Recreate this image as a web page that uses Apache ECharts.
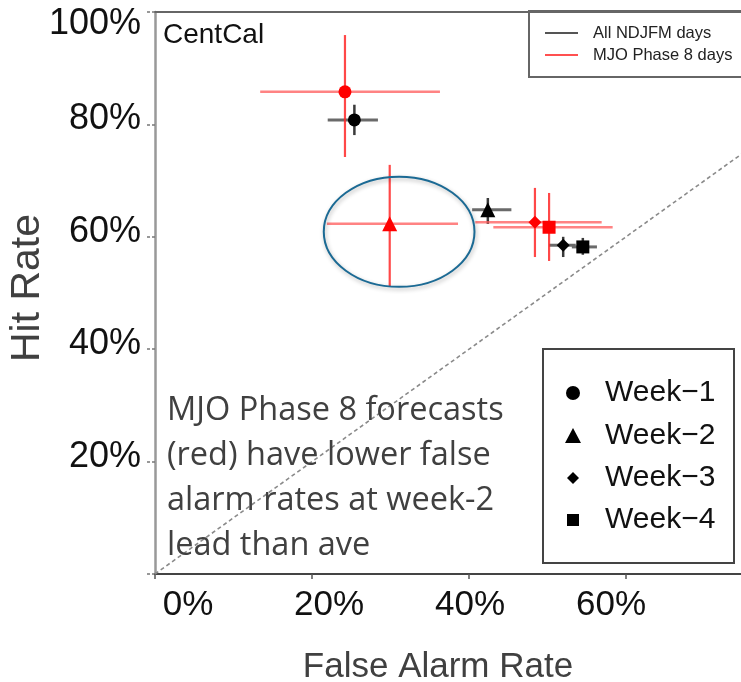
<!DOCTYPE html>
<html>
<head>
<meta charset="utf-8">
<script src="https://cdn.jsdelivr.net/npm/echarts@6/dist/echarts.min.js"></script>
<style>
  html, body { margin: 0; padding: 0; background: #fff; overflow: hidden; }
  #chart { width: 741px; height: 682px; }
</style>
</head>
<body>
<div id="chart"></div>
<script>
// Forecast verification for CentCal: hit rate vs false alarm rate, weeks 1-4
const weeks = ['Week\u22121', 'Week\u22122', 'Week\u22123', 'Week\u22124'];
const weekSymbols = ['circle', 'triangle', 'diamond', 'rect'];
const weekSymbolSizes = [13, 15, 13, 13];

// All NDJFM days (%, with uncertainty ranges)
const allFar      = [25.4, 42.4, 52.0, 54.5];
const allHit      = [80.8, 64.8, 58.5, 58.2];
const allFarLow   = [22.0, 40.4, 50.2, 53.1];
const allFarHigh  = [28.4, 45.4, 53.6, 56.3];
const allHitLow   = [78.1, 62.3, 56.4, 56.8];
const allHitHigh  = [83.5, 66.9, 60.0, 59.8];

// MJO Phase 8 days (%, with uncertainty ranges)
const mjoFar      = [24.2, 29.9, 48.4, 50.2];
const mjoHit      = [85.8, 62.3, 62.6, 61.7];
const mjoFarLow   = [13.4, 21.9, 40.8, 43.1];
const mjoFarHigh  = [36.3, 38.6, 56.9, 58.3];
const mjoHitLow   = [74.2, 51.2, 56.4, 55.7];
const mjoHitHigh  = [95.9, 72.8, 68.7, 67.8];

const xTickValues = [0, 20, 40, 60];
const yTickValues = [20, 40, 60, 80, 100];

// no-skill diagonal and the highlighted week-2 region (centre x, centre y, half-width, half-height)
const referenceLine = [[0, 0], [80, 80]];
const highlightRegion = [31.1, 60.9, 9.6, 9.8];

const seriesNames = ['All NDJFM days', 'MJO Phase 8 days'];
const noteText = 'MJO Phase 8 forecasts\n(red) have lower false\nalarm rates at week-2\nlead than ave';

function rangeRows(far, hit, farLow, farHigh, hitLow, hitHigh) {
  return far.map((x, i) => [x, hit[i], farLow[i], farHigh[i], hitLow[i], hitHigh[i]]);
}
function markerRows(far, hit) {
  return far.map((x, i) => ({
    value: [x, hit[i]],
    symbol: weekSymbols[i],
    symbolSize: weekSymbolSizes[i]
  }));
}
function errorBars(hColor, vColor, hWidth, vWidth) {
  return function (params, api) {
    const c = api.coord([api.value(0), api.value(1)]);
    const xl = api.coord([api.value(2), api.value(1)]);
    const xh = api.coord([api.value(3), api.value(1)]);
    const yl = api.coord([api.value(0), api.value(4)]);
    const yh = api.coord([api.value(0), api.value(5)]);
    return {
      type: 'group',
      children: [
        { type: 'line', shape: { x1: xl[0], y1: c[1], x2: xh[0], y2: c[1] },
          style: { stroke: hColor, lineWidth: hWidth } },
        { type: 'line', shape: { x1: c[0], y1: yl[1], x2: c[0], y2: yh[1] },
          style: { stroke: vColor, lineWidth: vWidth } }
      ]
    };
  };
}

const chart = echarts.init(document.getElementById('chart'));

const axisFont = 'Liberation Sans, Arial, sans-serif';

const option = {
  backgroundColor: '#fff',
  animation: false,
  grid: {
    left: 155, top: 12, width: 628, height: 562,
    outerBoundsMode: 'none', containLabel: false, show: false
  },
  xAxis: [
    {
      type: 'value', min: 0, max: 80, interval: 20,
      axisLine: { show: true, onZero: false, lineStyle: { color: '#444', width: 2 } },
      axisTick: { show: true, length: 5, lineStyle: { color: '#555', width: 1.5 } },
      axisLabel: { show: false },
      splitLine: { show: false }
    },
    {
      // tick labels for the false alarm rate
      type: 'value', min: -4.68, max: 84.4, position: 'bottom',
      axisLine: { show: false }, axisTick: { show: false }, splitLine: { show: false },
      axisLabel: {
        customValues: xTickValues,
        margin: 14,
        fontSize: 35, fontFamily: axisFont, color: '#111',
        formatter: v => (xTickValues.indexOf(v) >= 0 ? v + '%' : '')
      }
    },
    {
      // upper frame of the plot
      type: 'value', min: 0, max: 80, position: 'top',
      axisLine: { show: true, onZero: false, lineStyle: { color: '#666', width: 2 } },
      axisTick: { show: false }, axisLabel: { show: false }, splitLine: { show: false }
    }
  ],
  yAxis: {
    type: 'value', min: 0, max: 100, interval: 20,
    axisLine: { show: true, onZero: false, lineStyle: { color: '#999', width: 2.5 } },
    axisTick: { show: true, length: 8, lineStyle: { color: '#777', width: 1.5, type: [3, 2] } },
    splitLine: { show: false },
    axisLabel: {
      margin: 14,
      fontSize: 36, fontFamily: axisFont, color: '#111',
      formatter: v => {
        if (yTickValues.indexOf(v) < 0) return '';
        return v === 100 ? '{top|' + v + '%}' : '{n|' + v + '%}';
      },
      rich: {
        n: { fontSize: 36, fontFamily: axisFont, color: '#111', padding: [0, 0, 10, 0] },
        top: { fontSize: 36, fontFamily: axisFont, color: '#111', padding: [24, 0, 0, 0] }
      }
    }
  },
  series: [
    {
      type: 'line', data: referenceLine, showSymbol: false, silent: true,
      lineStyle: { color: '#8a8a8a', width: 1.6, type: [4, 3] }, z: 1
    },
    {
      name: seriesNames[0], type: 'custom',
      renderItem: errorBars('#6a6a6a', '#3a3a3a', 3, 2.5),
      data: rangeRows(allFar, allHit, allFarLow, allFarHigh, allHitLow, allHitHigh), z: 2
    },
    {
      name: seriesNames[0], type: 'scatter',
      data: markerRows(allFar, allHit),
      itemStyle: { color: '#000', opacity: 1 }, z: 3
    },
    {
      name: seriesNames[1], type: 'custom',
      renderItem: errorBars('rgba(255,90,90,0.75)', 'rgba(255,40,40,0.85)', 2.5, 2.2),
      data: rangeRows(mjoFar, mjoHit, mjoFarLow, mjoFarHigh, mjoHitLow, mjoHitHigh), z: 4
    },
    {
      name: seriesNames[1], type: 'scatter',
      data: markerRows(mjoFar, mjoHit),
      itemStyle: { color: '#ff0000', opacity: 1 }, z: 5
    },
    {
      type: 'custom', silent: true, z: 6,
      data: [highlightRegion],
      renderItem: (params, api) => {
        const c = api.coord([api.value(0), api.value(1)]);
        const s = api.size([api.value(2), api.value(3)]);
        return {
          type: 'ellipse',
          shape: { cx: c[0], cy: c[1], rx: s[0], ry: s[1] },
          style: {
            fill: 'none', stroke: '#1b6a94', lineWidth: 2,
            shadowBlur: 4, shadowColor: 'rgba(0,0,0,0.3)', shadowOffsetX: 1, shadowOffsetY: 2
          }
        };
      }
    }
  ],
  graphic: [
    // axis titles
    { type: 'text', x: 28, y: 288, rotation: Math.PI / 2, z: 50,
      style: { text: 'Hit Rate', fontSize: 41, fontFamily: axisFont, fill: '#404040',
               align: 'center', verticalAlign: 'middle' } },
    { type: 'text', x: 438, y: 667, z: 50,
      style: { text: 'False Alarm Rate', fontSize: 35, fontFamily: axisFont, fill: '#404040',
               align: 'center', verticalAlign: 'middle' } },
    // region label
    { type: 'text', x: 163, y: 21, z: 50,
      style: { text: 'CentCal', fontSize: 28, fontFamily: axisFont, fill: '#111',
               align: 'left', verticalAlign: 'top' } },
    // note
    { type: 'text', x: 167, y: 388, z: 50,
      style: { text: noteText, fontSize: 32.5, lineHeight: 45, fontFamily: '"Open Sans", sans-serif',
               fill: '#404040', align: 'left', verticalAlign: 'top' } },
    // series key
    { type: 'group', z: 60, children: [
      { type: 'rect', shape: { x: 529, y: 11, width: 240, height: 66 },
        style: { fill: '#fff', stroke: '#666', lineWidth: 2 } },
      { type: 'line', shape: { x1: 545, y1: 33, x2: 578, y2: 33 }, style: { stroke: '#555', lineWidth: 2 } },
      { type: 'line', shape: { x1: 545, y1: 55, x2: 578, y2: 55 }, style: { stroke: '#ff5050', lineWidth: 2 } },
      { type: 'text', x: 593, y: 33, style: { text: seriesNames[0], fontSize: 16.5, fontFamily: axisFont,
        fill: '#222', align: 'left', verticalAlign: 'middle' } },
      { type: 'text', x: 593, y: 55, style: { text: seriesNames[1], fontSize: 16.5, fontFamily: axisFont,
        fill: '#222', align: 'left', verticalAlign: 'middle' } }
    ] },
    // lead-time key
    { type: 'group', z: 60, children: [
      { type: 'rect', shape: { x: 543, y: 349, width: 191, height: 214 },
        style: { fill: '#fff', stroke: '#444', lineWidth: 2 } },
      { type: 'circle', shape: { cx: 573, cy: 393, r: 7 }, style: { fill: '#000' } },
      { type: 'polygon', shape: { points: [[573, 428], [581, 443], [565, 443]] }, style: { fill: '#000' } },
      { type: 'polygon', shape: { points: [[573, 472], [579, 478], [573, 484], [567, 478]] }, style: { fill: '#000' } },
      { type: 'rect', shape: { x: 567, y: 514, width: 12, height: 12 }, style: { fill: '#000' } },
      { type: 'text', x: 605, y: 393, style: { text: weeks[0], fontSize: 30, fontFamily: axisFont, fill: '#111', align: 'left', verticalAlign: 'middle' } },
      { type: 'text', x: 605, y: 436, style: { text: weeks[1], fontSize: 30, fontFamily: axisFont, fill: '#111', align: 'left', verticalAlign: 'middle' } },
      { type: 'text', x: 605, y: 478, style: { text: weeks[2], fontSize: 30, fontFamily: axisFont, fill: '#111', align: 'left', verticalAlign: 'middle' } },
      { type: 'text', x: 605, y: 520, style: { text: weeks[3], fontSize: 30, fontFamily: axisFont, fill: '#111', align: 'left', verticalAlign: 'middle' } }
    ] }
  ]
};

chart.setOption(option);
</script>
</body>
</html>
